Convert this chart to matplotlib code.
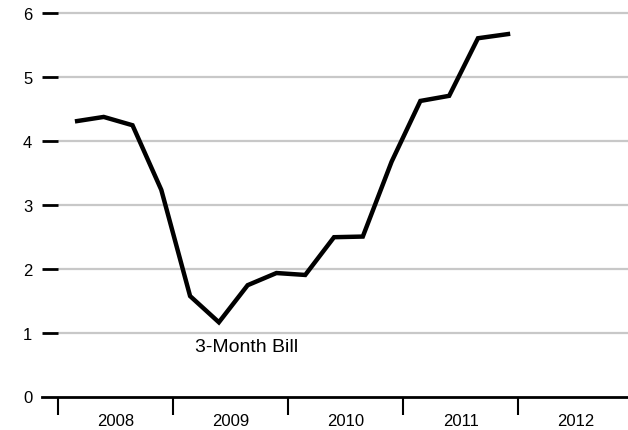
import matplotlib.pyplot as plt
from matplotlib.ticker import FixedLocator, NullFormatter, FixedFormatter

plt.rcParams['font.family'] = ['Liberation Sans', 'DejaVu Sans']

# quarterly 3-month bill rate, 2008 - 2011
quarters = [2008.15, 2008.40, 2008.65, 2008.90,
            2009.15, 2009.40, 2009.65, 2009.90,
            2010.15, 2010.40, 2010.65, 2010.90,
            2011.15, 2011.40, 2011.65, 2011.93]
rate = [4.30, 4.37, 4.24, 3.23,
        1.57, 1.16, 1.74, 1.93,
        1.90, 2.49, 2.50, 3.67,
        4.62, 4.70, 5.60, 5.67]
years = [2008, 2009, 2010, 2011, 2012, 2013]
year_labels = ['2008', '2009', '2010', '2011', '2012']
yticks = [0, 1, 2, 3, 4, 5, 6]

fig = plt.figure(figsize=(6.28, 4.31), dpi=100)
ax = fig.add_axes([42 / 628, 33.5 / 431, 1 - 42 / 628, 1 - 33.5 / 431 - 0.002])

x0, x1 = 2007.864, 2012.953
ax.set_xlim(x0, x1)
ax.set_ylim(0, 6.2)

# grid lines and the short left ticks
ax.hlines(yticks[1:], 2008, x1, color='#c8c8c8', lw=1.6, zorder=1)
ax.hlines(yticks[1:], x0, 2008, color='black', lw=2, zorder=2)

ax.plot(quarters, rate, color='black', lw=3.2, solid_joinstyle='miter',
        solid_capstyle='butt', zorder=3)

ax.text(2009.19, 0.78, '3-Month Bill', fontsize=14, ha='left', va='center')

for s in ['top', 'right', 'left']:
    ax.spines[s].set_visible(False)
ax.spines['bottom'].set_linewidth(2)

ax.set_yticks(yticks)
ax.set_yticklabels([str(v) for v in yticks])
ax.tick_params(axis='y', length=0, pad=7, labelsize=12)

ax.xaxis.set_major_locator(FixedLocator(years))
ax.xaxis.set_major_formatter(NullFormatter())
ax.xaxis.set_minor_locator(FixedLocator([y + 0.5 for y in years[:-1]]))
ax.xaxis.set_minor_formatter(FixedFormatter(year_labels))
ax.tick_params(axis='x', which='major', direction='out', length=13, width=1.5)
ax.tick_params(axis='x', which='minor', length=0, pad=12, labelsize=12)

fig.savefig('out.png', dpi=100)
